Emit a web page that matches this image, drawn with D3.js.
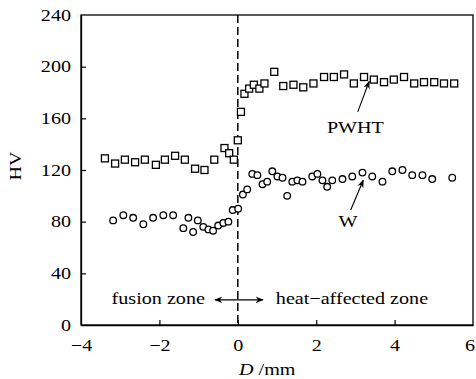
<!DOCTYPE html>
<html>
<head>
<meta charset="utf-8">
<script src="https://cdn.jsdelivr.net/npm/d3@7/dist/d3.min.js"></script>
<style>
  html, body { margin: 0; padding: 0; background: #fff; }
  svg { display: block; }
  text { font-family: "Liberation Serif", "Times New Roman", serif; fill: #000; }
</style>
</head>
<body>
<svg id="chart" width="476" height="379"></svg>
<script>
// ---- data ----
const pwhtD = [-3.39,-3.13,-2.88,-2.62,-2.37,-2.09,-1.86,-1.60,-1.35,-1.09,-0.85,-0.60,-0.34,-0.22,-0.10,0.00,0.08,0.17,0.29,0.41,0.55,0.68,0.93,1.16,1.42,1.67,1.93,2.20,2.45,2.71,2.96,3.22,3.47,3.73,3.98,4.24,4.50,4.75,5.01,5.26,5.52];
const pwhtHV = [129,125,128,126,128,124,128,131,128,121,120,128,137,133,128,143,165,179,183,186,183,187,196,185,186,184,187,192,192,194,187,192,190,188,190,192,187,188,188,187,187];
const wD = [-3.18,-2.92,-2.67,-2.41,-2.16,-1.90,-1.65,-1.39,-1.26,-1.14,-1.02,-0.88,-0.75,-0.63,-0.50,-0.37,-0.24,-0.13,0.01,0.13,0.24,0.37,0.50,0.63,0.75,0.88,1.01,1.14,1.26,1.39,1.52,1.65,1.90,2.03,2.16,2.28,2.41,2.67,2.92,3.18,3.43,3.69,3.94,4.20,4.45,4.71,4.96,5.47];
const wHV = [81,85,83,78,83,85,85,75,83,72,81,76,74,73,77,79,80,89,90,101,105,117,116,109,111,119,115,114,100,111,112,111,115,117,112,107,112,113,115,118,115,111,119,120,116,116,113,114];
const xTicks = [-4,-2,0,2,4,6];
const yTicks = [0,40,80,120,160,200,240];

// ---- layout ----
const svg = d3.select("#chart");
const m = {left: 81, top: 15, right: 3, bottom: 54};
const W = 476 - m.left - m.right, H = 379 - m.top - m.bottom;
const SX = 1.22, FS = 16.5;
const g = svg.append("g").attr("transform", `translate(${m.left},${m.top})`);

const x = d3.scaleLinear().domain([-4, 6]).range([0, W]);
const y = d3.scaleLinear().domain([0, 240]).range([H, 0]);

// frame
g.append("rect").attr("x", 0).attr("y", 0).attr("width", W).attr("height", H)
  .attr("fill", "none").attr("stroke", "#000").attr("stroke-width", 1.3);

// x axis
const xa = g.append("g").attr("transform", `translate(0,${H})`)
  .call(d3.axisBottom(x).tickValues(xTicks).tickSizeInner(-5).tickSizeOuter(0).tickPadding(14));
xa.select(".domain").attr("stroke-width", 1.3);
xa.selectAll(".tick line").attr("stroke-width", 1.2);
xa.selectAll(".tick text").attr("font-size", FS).attr("font-family", "Liberation Serif")
  .attr("transform", `scale(${SX},1)`)
  .attr("x", d => d === 6 ? -3.5 / SX : 0);
xa.selectAll(".tick").filter(d => d === -4 || d === 6).select("line").remove();

// y axis
const ya = g.append("g")
  .call(d3.axisLeft(y).tickValues(yTicks).tickSizeInner(-5).tickSizeOuter(0).tickPadding(10));
ya.select(".domain").attr("stroke-width", 1.3);
ya.selectAll(".tick line").attr("stroke-width", 1.2);
ya.selectAll(".tick text").attr("font-size", FS).attr("font-family", "Liberation Serif")
  .attr("transform", `scale(${SX},1)`)
  .attr("x", -10 / SX);
ya.selectAll(".tick").filter(d => d === 0 || d === 240).select("line").remove();

// dashed boundary line
g.append("line").attr("x1", x(0)).attr("x2", x(0)).attr("y1", 0).attr("y2", H)
  .attr("stroke", "#000").attr("stroke-width", 1.5).attr("stroke-dasharray", "8,4");

// PWHT squares
const sq = 7;
g.append("g").selectAll("rect").data(pwhtD.map((d, i) => [d, pwhtHV[i]])).join("rect")
  .attr("x", d => x(d[0]) - sq / 2).attr("y", d => y(d[1]) - sq / 2)
  .attr("width", sq).attr("height", sq)
  .attr("fill", "#fff").attr("stroke", "#000").attr("stroke-width", 1.3);

// W circles
g.append("g").selectAll("circle").data(wD.map((d, i) => [d, wHV[i]])).join("circle")
  .attr("cx", d => x(d[0])).attr("cy", d => y(d[1])).attr("r", 3.3)
  .attr("fill", "#fff").attr("stroke", "#000").attr("stroke-width", 1.3);

// arrow marker
const defs = svg.append("defs");
defs.append("marker").attr("id", "ah").attr("viewBox", "0 0 10 10")
  .attr("refX", 9).attr("refY", 5).attr("markerWidth", 8).attr("markerHeight", 8)
  .attr("markerUnits", "userSpaceOnUse").attr("orient", "auto-start-reverse")
  .append("path").attr("d", "M0,1 L10,5 L0,9 L3,5 Z").attr("fill", "#000");

function label(txt, dx, dy, anchor) {
  return g.append("text").attr("transform", `translate(${x(dx)},${y(dy)}) scale(${SX},1)`)
    .attr("text-anchor", anchor).attr("font-size", FS).text(txt);
}

// PWHT annotation
label("PWHT", 3.0, 149, "middle");
g.append("line").attr("x1", x(3.06)).attr("y1", y(165)).attr("x2", x(3.35)).attr("y2", y(188.5))
  .attr("stroke", "#000").attr("stroke-width", 1.1).attr("marker-end", "url(#ah)");

// W annotation
label("W", 2.81, 76, "middle");
g.append("line").attr("x1", x(2.88)).attr("y1", y(89)).attr("x2", x(3.2)).attr("y2", y(112))
  .attr("stroke", "#000").attr("stroke-width", 1.1).attr("marker-end", "url(#ah)");

// zone labels
label("fusion zone", -3.22, 16.5, "start");
label("heat\u2212affected zone", 0.97, 16.5, "start");
g.append("line").attr("x1", x(-0.58)).attr("y1", y(19.5)).attr("x2", x(0.64)).attr("y2", y(19.5))
  .attr("stroke", "#000").attr("stroke-width", 1.2)
  .attr("marker-start", "url(#ah)").attr("marker-end", "url(#ah)");

// axis titles
svg.append("text").attr("transform", `translate(21,166) rotate(-90) scale(${SX},1)`)
  .attr("text-anchor", "middle").attr("font-size", FS).text("HV");
const xt = svg.append("text").attr("transform", `translate(${m.left + x(0.75)},375) scale(${SX},1)`)
  .attr("text-anchor", "middle").attr("font-size", FS);
xt.append("tspan").attr("font-style", "italic").text("D");
xt.append("tspan").text(" /mm");
</script>
</body>
</html>
